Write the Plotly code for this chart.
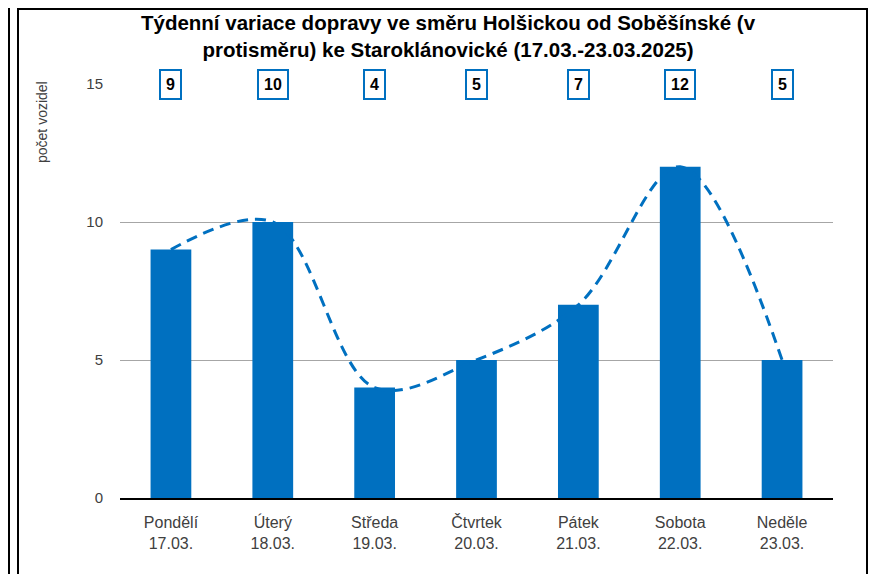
import plotly.graph_objects as go

days = ['Pondělí', 'Úterý', 'Středa', 'Čtvrtek', 'Pátek', 'Sobota', 'Neděle']
dates = ['17.03.', '18.03.', '19.03.', '20.03.', '21.03.', '22.03.', '23.03.']
vehicles = [9, 10, 4, 5, 7, 12, 5]
y_ticks = [0, 5, 10, 15]

BLUE = '#0070C0'
# the page body has an 8px margin, so the figure is a bit smaller than the window
W, H = 869, 566
L, R, T, B = 112, 44, 76, 76

categories = [f'{d}<br>{dt}' for d, dt in zip(days, dates)]


def px_x(x):
    return (x - L) / (W - L - R)


def px_y(y):
    return 1 - (y - T) / (H - T - B)


fig = go.Figure()

fig.add_trace(go.Bar(
    x=categories,
    y=vehicles,
    marker=dict(color=BLUE, line=dict(width=0)),
    width=0.4,
    hoverinfo='y'
))

fig.add_trace(go.Scatter(
    x=categories,
    y=vehicles,
    mode='lines',
    line=dict(color=BLUE, width=3, dash='11px,7px', shape='spline', smoothing=1.0),
    hoverinfo='skip'
))

# value boxes along the top gridline
for cat, v in zip(categories, vehicles):
    fig.add_annotation(
        x=cat, y=15, text=f'<b>{v}</b>', showarrow=False,
        font=dict(family='Liberation Sans, Arial', size=16, color='#000000'),
        bgcolor='white', bordercolor=BLUE, borderwidth=2, borderpad=5
    )

fig.add_annotation(
    x=px_x(34), y=px_y(114), xref='paper', yref='paper',
    xanchor='center', yanchor='middle',
    text='počet vozidel', textangle=-90, showarrow=False,
    font=dict(family='Liberation Sans, Arial', size=14, color='#404040')
)

# chart frame
fig.add_shape(type='line', xref='paper', yref='paper',
              x0=px_x(1), x1=px_x(1), y0=px_y(-5), y1=px_y(H + 5),
              line=dict(color='black', width=2))
fig.add_shape(type='rect', xref='paper', yref='paper',
              x0=px_x(10), x1=px_x(859), y0=px_y(1), y1=px_y(H + 10),
              line=dict(color='black', width=2))

fig.update_layout(
    width=W, height=H,
    margin=dict(l=L, r=R, t=T, b=B),
    paper_bgcolor='white', plot_bgcolor='white',
    showlegend=False,
    title=dict(
        text='<b>Týdenní variace dopravy ve směru Holšickou od Soběšínské (v<br>'
             'protisměru) ke Staroklánovické (17.03.-23.03.2025)</b>',
        x=440 / W, xanchor='center', xref='container',
        y=1 - 22 / H, yanchor='middle', yref='container',
        font=dict(family='Liberation Sans, Arial', size=20.5, color='#000000')
    ),
    font=dict(family='Liberation Sans, Arial', size=15, color='#404040')
)

fig.update_xaxes(
    showgrid=False, showline=True, linecolor='black', linewidth=1.5,
    ticks='', ticklabelstandoff=9, tickfont=dict(size=16, color='#404040')
)
fig.update_yaxes(
    range=[0, 15], tickvals=y_ticks, showgrid=True, gridcolor='#A6A6A6',
    gridwidth=1, zeroline=False, showline=False, ticks='',
    ticklabelstandoff=16, tickfont=dict(size=15, color='#404040')
)

fig.write_html('out.html')
